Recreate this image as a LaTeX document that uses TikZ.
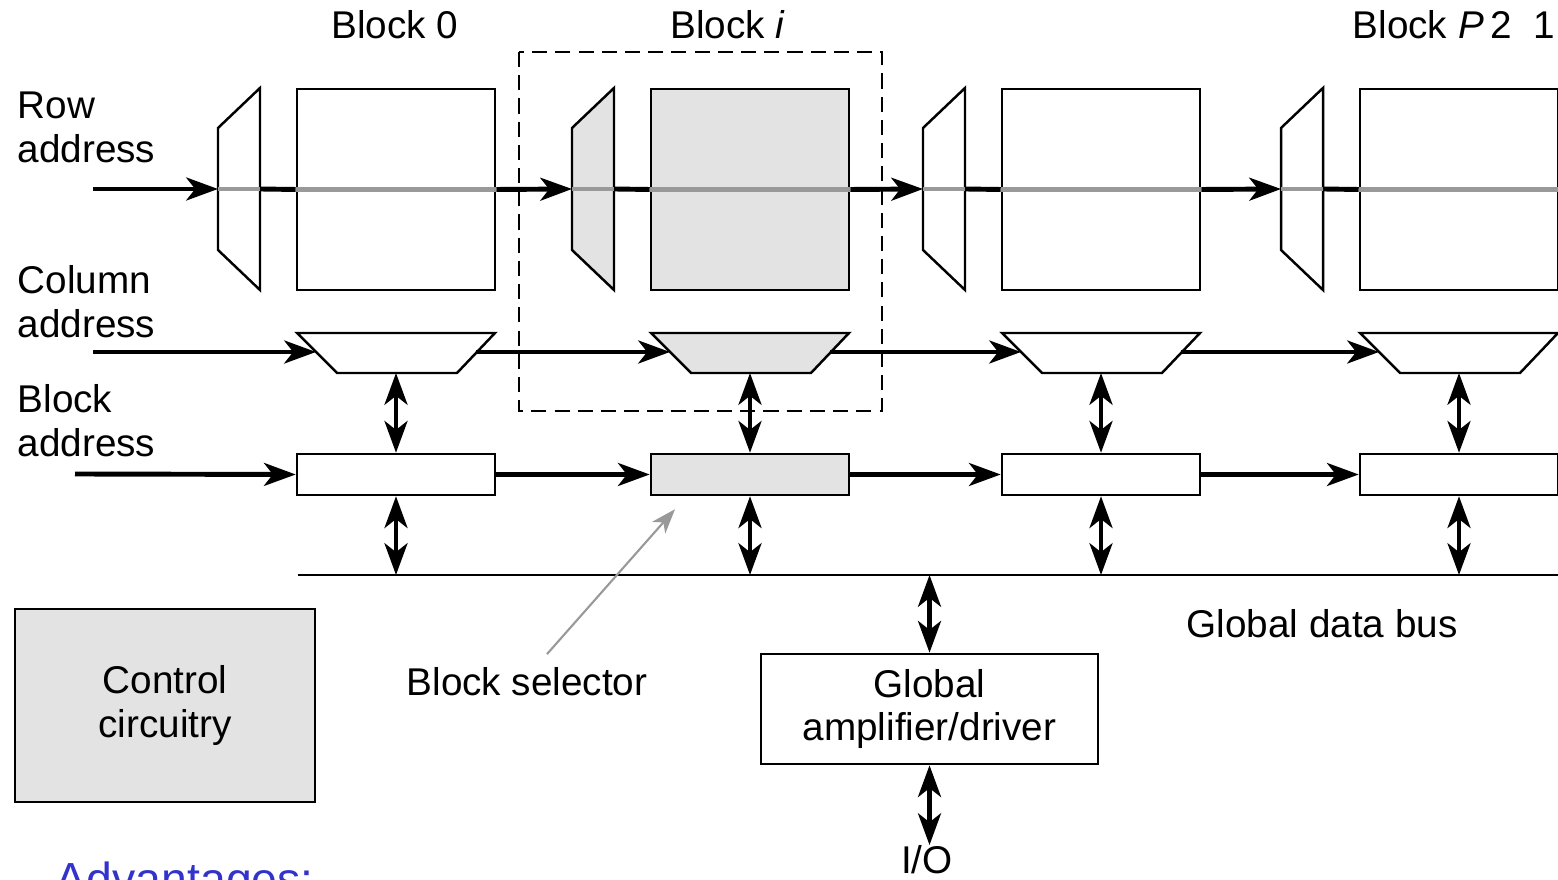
\documentclass[tikz,border=0pt]{standalone}
\usepackage{fontspec}
\setmainfont{Liberation Sans}
\usetikzlibrary{arrows.meta}
\definecolor{blockgray}{RGB}{227,227,227}
\definecolor{wordline}{RGB}{153,153,153}
\definecolor{advblue}{RGB}{51,51,204}

\begin{document}
\begin{tikzpicture}[x=0.01cm, y=-0.01cm, font=\fontsize{11}{12.5}\selectfont,
	>={Stealth[length=9pt,width=6.5pt,inset=2.5pt]},
	bus/.style={line width=1.4pt},
	box/.style={draw, line width=0.7pt, inner sep=0pt},
	lbl/.style={align=left, anchor=west, inner sep=0pt}]
	\useasboundingbox (0,0) rectangle (1558,880);

	% selected block
	\draw[line width=0.6pt, dash pattern=on 4.3pt off 2.3pt] (519,52) rectangle (882,411);

	\coordinate (rowin) at (93,189);
	\coordinate (colin) at (93,352);
	\coordinate (blkin) at (75,474);
	\coordinate (busL) at (298,575);
	\coordinate (busR) at (1558,575);
	\draw[line width=0.8pt] (busL) -- (busR);

	\foreach \n/\x/\c in {0/396/white,1/750/blockgray,2/1101/white,3/1459/white}
	{
		% row decoder and array
		\node[box, fill=\c, minimum width=1.98cm, minimum height=2.01cm] (arr\n) at (\x,189.5) {};
		\draw[box, fill=\c] (\x-178,128) -- (\x-136,88) -- (\x-136,290) -- (\x-178,250) -- cycle;
		\coordinate (rdin\n) at (\x-178,189);
		\coordinate (rdout\n) at (\x-136,189);
		\draw[bus] (rdout\n) -- (arr\n.west);
		\draw[wordline, line width=1.4pt] (rdin\n) -- (rdout\n) (arr\n.west) -- (arr\n.east);
		% column decoder
		\draw[box, fill=\c] (\x-99,333) -- (\x+99,333) -- (\x+61,373) -- (\x-59,373) -- cycle;
		\coordinate (cdin\n) at (\x-80,352);
		\coordinate (cdout\n) at (\x+80,352);
		\coordinate (cdbot\n) at (\x,373);
		% block selector
		\node[box, fill=\c, minimum width=1.98cm, minimum height=0.41cm] (sel\n) at (\x,474.5) {};
		\draw[bus, <->] (cdbot\n) -- (sel\n.north);
		\draw[bus, <->] (sel\n.south) -- (sel\n.south |- busL);
	}

	\draw[bus, ->] (rowin) -- (rdin0);
	\draw[bus, ->] (colin) -- (cdin0);
	\draw[bus, ->] (blkin) -- (sel0.west);
	\foreach \a/\b in {0/1,1/2,2/3}
	{
		\draw[bus, ->] (arr\a.east) -- (rdin\b);
		\draw[bus, ->] (cdout\a) -- (cdin\b);
		\draw[bus, ->] (sel\a.east) -- (sel\b.west);
	}

	\node at (395,25) {Block 0};
	\node at (728,25) {Block \textit{i}};
	\node[anchor=west, inner sep=0pt] at (1352,25) {Block \textit{P}\,2\hspace{0.55em}1};
	\node[lbl] at (17,127) {Row\\address};
	\node[lbl] at (17,302) {Column\\address};
	\node[lbl] at (17,421) {Block\\address};

	\node[box, fill=blockgray, minimum width=3cm, minimum height=1.93cm, align=center] (ctrl) at (165,705.5) {Control\\circuitry};
	\node[box, minimum width=3.37cm, minimum height=1.1cm, align=center] (amp) at (929.5,709) {Global\\amplifier/driver};
	\node[inner sep=0pt] (io) at (927,860) {I/O};
	\node[inner sep=0pt] (gbus) at (1322,624) {Global data bus};
	\node[inner sep=0pt] (bsel) at (527,682) {Block selector};
	\draw[bus, <->] (amp.north |- busL) -- (amp.north);
	\draw[bus, <->] (amp.south) -- (amp.south |- io.north);
	\draw[wordline, line width=0.6pt, -{Stealth[length=7pt,width=5pt,inset=2pt]}] ([shift={(20,-13)}]bsel.north) -- ([shift={(-75,13)}]sel1.south);

	\node[anchor=base west, inner sep=0pt, text=advblue, font=\fontsize{13.2}{15}\selectfont] at (55,895) {Advantages:};
\end{tikzpicture}
\end{document}
